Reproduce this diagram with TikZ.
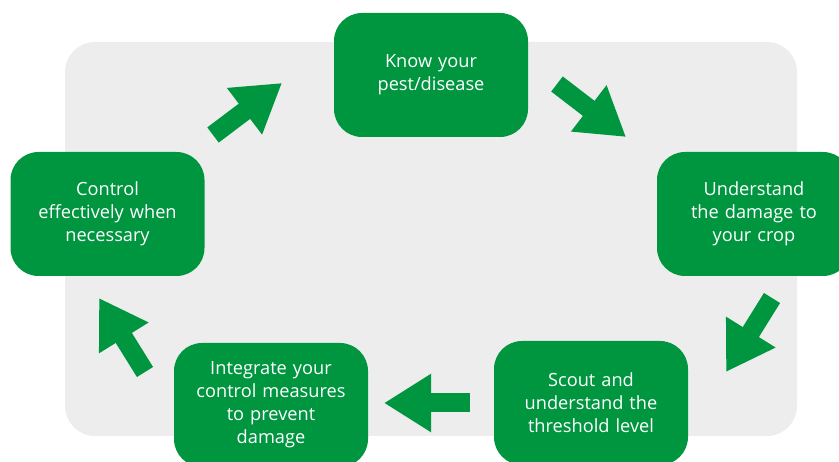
\documentclass[tikz,border=0pt]{standalone}
\usepackage{fontspec}
\setmainfont{Open Sans}
\usepackage{tikz}
\usetikzlibrary{arrows.meta,positioning}
\definecolor{ipmgreen}{HTML}{009640}
\definecolor{ipmgrey}{HTML}{EDEDED}

\begin{document}
\begin{tikzpicture}[
 x=1pt,y=-1pt,
 stage/.style={fill=ipmgreen,text=white,rounded corners=28pt,minimum width=194pt,minimum height=124pt,
  text width=176pt,align=center,inner sep=0pt,font=\fontsize{18.2}{23}\selectfont},
 cycle/.style={ipmgreen,line width=19pt,-{Triangle[length=47pt,width=55pt]}}
]
\clip (0,0) rectangle (839,462);
\fill[ipmgrey,rounded corners=30pt] (65,42) rectangle (797,436);
\node[stage] (know) at (431,75) {Know your\\pest/disease};
\node[stage] (damage) at (754,214) {Understand\\the damage to\\your crop};
\node[stage] (scout) at (591,403) {Scout and\\understand the\\threshold level};
\node[stage] (integrate) at (271,405) {Integrate your\\control measures\\to prevent\\damage};
\node[stage] (control) at (107.5,214) {Control\\effectively when\\necessary};
% arrow ends
\coordinate (k1) at (557,84);    \coordinate (k2) at (626,137);
\coordinate (d1) at (772,298);   \coordinate (d2) at (726,372);
\coordinate (s1) at (470,403);   \coordinate (s2) at (384,403);
\coordinate (i1) at (145,372);   \coordinate (i2) at (99,298);
\coordinate (c1) at (213,135);   \coordinate (c2) at (282,83);
\foreach \a/\b in {k1/k2,d1/d2,s1/s2,i1/i2,c1/c2}
 \draw[cycle] (\a) -- (\b);
\end{tikzpicture}
\end{document}
